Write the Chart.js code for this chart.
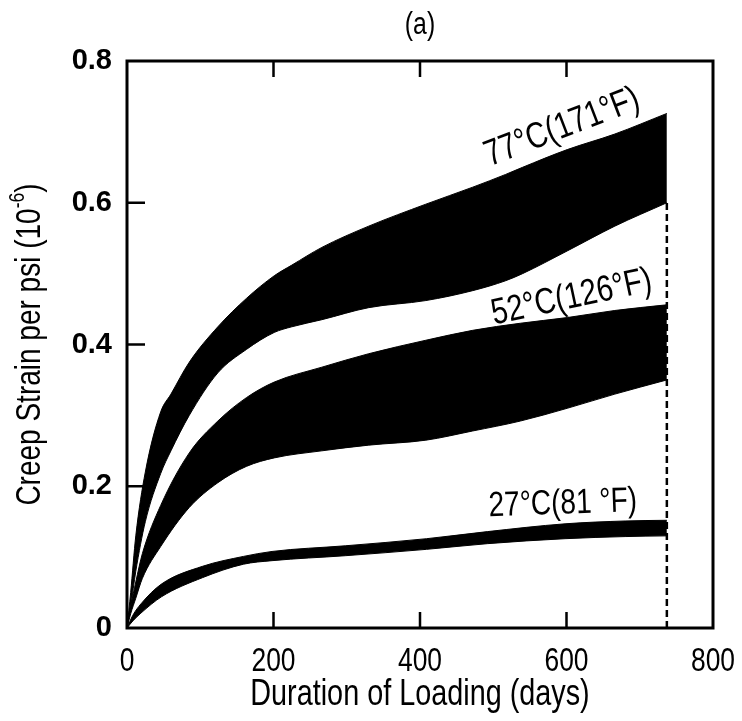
<!DOCTYPE html>
<html>
<head>
<meta charset="utf-8">
<script src="https://cdn.jsdelivr.net/npm/chart.js@4.4.1/dist/chart.umd.min.js"></script>
<style>
  html, body { margin: 0; padding: 0; background: #fff; }
  #wrap { width: 742px; height: 721px; }
</style>
</head>
<body>
<div id="wrap"><canvas id="c" width="742" height="721"></canvas></div>
<script>
// ---- Data (days, creep strain per psi x1e-6) ----
const xTicks = [0, 200, 400, 600, 800];
const yTicks = [0, 0.2, 0.4, 0.6, 0.8];

const days77  = [0, 5, 12, 25, 46, 60, 85, 124, 163, 201, 225, 266, 330, 408, 472, 517, 540, 601, 666, 737];
const upper77 = [0, 0.05, 0.13, 0.22, 0.305, 0.33, 0.375, 0.425, 0.465, 0.497, 0.512, 0.537, 0.567, 0.598, 0.622, 0.64, 0.65, 0.675, 0.697, 0.726];
const lower77 = [0, 0.03, 0.08, 0.15, 0.218, 0.25, 0.30, 0.36, 0.393, 0.417, 0.425, 0.435, 0.452, 0.462, 0.476, 0.49, 0.50, 0.532, 0.567, 0.60];

const days52  = [0, 5, 12, 21, 46, 85, 124, 163, 201, 266, 330, 408, 472, 537, 601, 666, 737];
const upper52 = [0, 0.03, 0.065, 0.105, 0.173, 0.247, 0.292, 0.325, 0.347, 0.368, 0.387, 0.406, 0.42, 0.43, 0.438, 0.448, 0.456];
const lower52 = [0, 0.02, 0.042, 0.07, 0.115, 0.17, 0.205, 0.228, 0.24, 0.25, 0.258, 0.265, 0.278, 0.292, 0.31, 0.33, 0.35];

const days27  = [0, 8, 19, 47, 103, 159, 198, 298, 409, 492, 598, 680, 737];
const upper27 = [0, 0.018, 0.034, 0.062, 0.087, 0.101, 0.108, 0.116, 0.126, 0.136, 0.147, 0.151, 0.152];
const lower27 = [0, 0.01, 0.021, 0.044, 0.071, 0.09, 0.095, 0.102, 0.111, 0.119, 0.126, 0.129, 0.13];

const endDay = 737;
const dashedY = [0, 0.6];

const bandLabels = [
  { text: "77°C(171°F)", day: 594, val: 0.706, angle: -21, size: 36.5 },
  { text: "52°C(126°F)", day: 607, val: 0.466, angle: -12, size: 36.5 },
  { text: "27°C(81 °F)", day: 595, val: 0.175, angle: -2, size: 35 }
];
const titleText = "(a)";
const xTitle = "Duration of Loading (days)";
const yTitleMain = "Creep Strain per psi (10";
const yTitleSup = "-6";
const yTitleTail = ")";

const FONT = "'Liberation Sans', Arial, sans-serif";
const SX = 0.8; // horizontal condensation to mimic a narrow typeface

function pts(xs, ys) { return xs.map((x, i) => ({ x: x, y: ys[i] })); }

function band(xs, up, lo) {
  const common = { pointRadius: 0, borderColor: '#000', backgroundColor: '#000', borderWidth: 1, cubicInterpolationMode: 'monotone' };
  return [
    Object.assign({ data: pts(xs, up), fill: '+1' }, common),
    Object.assign({ data: pts(xs, lo), fill: false }, common)
  ];
}

const datasets = [].concat(
  band(days77, upper77, lower77),
  band(days52, upper52, lower52),
  band(days27, upper27, lower27),
  [{ data: pts([endDay, endDay], dashedY), borderColor: '#000', borderWidth: 2.5, borderDash: [7, 4], pointRadius: 0, fill: false }]
);

function narrowText(ctx, text, x, y, size, angle, align, baseline) {
  ctx.save();
  ctx.translate(x, y);
  if (angle) ctx.rotate(angle * Math.PI / 180);
  ctx.scale(SX, 1);
  ctx.font = size + "px " + FONT;
  ctx.textAlign = align || 'center';
  ctx.textBaseline = baseline || 'middle';
  ctx.fillStyle = '#000';
  ctx.fillText(text, 0, 0);
  ctx.restore();
}

const decor = {
  id: 'decor',
  afterDatasetsDraw(chart) {
    const { ctx, chartArea: a, scales } = chart;
    const xs = scales.x, ys = scales.y;
    ctx.save();
    // frame
    ctx.strokeStyle = '#000';
    ctx.lineWidth = 3;
    ctx.strokeRect(a.left, a.top, a.right - a.left, a.bottom - a.top);
    // inward ticks
    ctx.lineWidth = 2.5;
    ctx.beginPath();
    xTicks.slice(1, -1).forEach(v => {
      const px = xs.getPixelForValue(v);
      ctx.moveTo(px, a.bottom); ctx.lineTo(px, a.bottom - 16);
      ctx.moveTo(px, a.top); ctx.lineTo(px, a.top + 16);
    });
    yTicks.slice(1, -1).forEach(v => {
      const py = ys.getPixelForValue(v);
      ctx.moveTo(a.left, py); ctx.lineTo(a.left + 18, py);
    });
    ctx.stroke();

    // x tick labels
    xTicks.forEach(v => {
      narrowText(ctx, String(v), xs.getPixelForValue(v), a.bottom + 43, 33, 0, 'center', 'alphabetic');
    });
    // x title
    narrowText(ctx, xTitle, (a.left + a.right) / 2, a.bottom + 77, 36, 0, 'center', 'alphabetic');

    // band labels
    bandLabels.forEach(l => {
      narrowText(ctx, l.text, xs.getPixelForValue(l.day), ys.getPixelForValue(l.val), l.size, l.angle, 'center', 'middle');
    });

    // title
    narrowText(ctx, titleText, (a.left + a.right) / 2, 25, 31, 0, 'center', 'middle');

    // y-axis title with superscript
    ctx.save();
    ctx.translate(30, (a.top + a.bottom) / 2);
    ctx.rotate(-Math.PI / 2);
    ctx.scale(SX, 1);
    ctx.fillStyle = '#000';
    ctx.textBaseline = 'middle';
    ctx.textAlign = 'left';
    ctx.font = "35px " + FONT;
    const wMain = ctx.measureText(yTitleMain).width, wTail = ctx.measureText(yTitleTail).width;
    ctx.font = "22px " + FONT;
    const wSup = ctx.measureText(yTitleSup).width;
    const x0 = -(wMain + wSup + wTail) / 2;
    ctx.font = "35px " + FONT;
    ctx.fillText(yTitleMain, x0, 0);
    ctx.font = "22px " + FONT;
    ctx.fillText(yTitleSup, x0 + wMain, -12);
    ctx.font = "35px " + FONT;
    ctx.fillText(yTitleTail, x0 + wMain + wSup, 0);
    ctx.restore();

    ctx.restore();
  }
};

new Chart(document.getElementById('c'), {
  type: 'line',
  data: { datasets: datasets },
  options: {
    responsive: false,
    devicePixelRatio: 1,
    animation: false,
    layout: { padding: { top: 61, right: 29, left: 0, bottom: 0 } },
    plugins: { legend: { display: false }, tooltip: { enabled: false }, title: { display: false } },
    scales: {
      x: {
        type: 'linear', min: 0, max: 800,
        afterFit(s) { s.height = 93; },
        afterBuildTicks(s) { s.ticks = xTicks.map(v => ({ value: v })); },
        grid: { display: false, drawTicks: false },
        border: { display: false },
        ticks: { display: false }
      },
      y: {
        type: 'linear', min: 0, max: 0.8,
        afterFit(s) { s.width = 127; },
        afterBuildTicks(s) { s.ticks = yTicks.map(v => ({ value: v })); },
        grid: { display: false, drawTicks: false },
        border: { display: false },
        ticks: { color: '#000', padding: 15, font: { family: FONT, size: 29, weight: 'bold' },
          callback: v => v === 0 ? '0' : v.toFixed(1) }
      }
    }
  },
  plugins: [decor]
});
</script>
</body>
</html>
